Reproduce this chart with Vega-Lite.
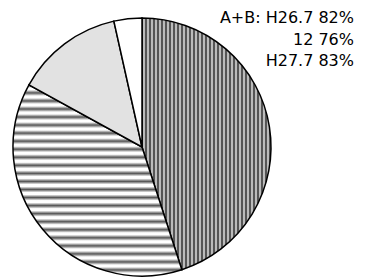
{
  "$schema": "https://vega.github.io/schema/vega-lite/v6.json",
  "width": 258,
  "height": 258,
  "autosize": {"type": "none"},
  "padding": {"left": 13, "top": 18, "right": 99, "bottom": 4},
  "background": "white",
  "config": {"view": {"stroke": null}},
  "title": {
    "text": ["A+B: H26.7 82%", "12 76%", "H27.7 83%"],
    "anchor": "end",
    "frame": "group",
    "align": "right",
    "font": "DejaVu Sans",
    "fontSize": 16,
    "fontWeight": "normal",
    "lineHeight": 21.5,
    "color": "black",
    "baseline": "top",
    "dx": 83,
    "dy": 58
  },
  "data": {
    "values": [
      {"k": "A", "v": 45, "o": 1},
      {"k": "B", "v": 38, "o": 2},
      {"k": "C", "v": 13.5, "o": 3},
      {"k": "D", "v": 3.5, "o": 4}
    ]
  },
  "mark": {"type": "arc", "stroke": "black", "strokeWidth": 1.5},
  "encoding": {
    "theta": {"field": "v", "type": "quantitative", "stack": true},
    "order": {"field": "o", "type": "quantitative"},
    "fill": {
      "condition": [
        {
          "test": "datum.k == 'A'",
          "value": {
            "gradient": "linear", "x1": 0, "y1": 0, "x2": 1, "y2": 0,
            "stops": [
              {"offset": 0, "color": "#222"}, {"offset": 0.0155, "color": "#eee"},
              {"offset": 0.0310, "color": "#222"}, {"offset": 0.0465, "color": "#eee"},
              {"offset": 0.0620, "color": "#222"}, {"offset": 0.0775, "color": "#eee"},
              {"offset": 0.0930, "color": "#222"}, {"offset": 0.1085, "color": "#eee"},
              {"offset": 0.1240, "color": "#222"}, {"offset": 0.1395, "color": "#eee"},
              {"offset": 0.1550, "color": "#222"}, {"offset": 0.1705, "color": "#eee"},
              {"offset": 0.1860, "color": "#222"}, {"offset": 0.2016, "color": "#eee"},
              {"offset": 0.2171, "color": "#222"}, {"offset": 0.2326, "color": "#eee"},
              {"offset": 0.2481, "color": "#222"}, {"offset": 0.2636, "color": "#eee"},
              {"offset": 0.2791, "color": "#222"}, {"offset": 0.2946, "color": "#eee"},
              {"offset": 0.3101, "color": "#222"}, {"offset": 0.3256, "color": "#eee"},
              {"offset": 0.3411, "color": "#222"}, {"offset": 0.3566, "color": "#eee"},
              {"offset": 0.3721, "color": "#222"}, {"offset": 0.3876, "color": "#eee"},
              {"offset": 0.4031, "color": "#222"}, {"offset": 0.4186, "color": "#eee"},
              {"offset": 0.4341, "color": "#222"}, {"offset": 0.4496, "color": "#eee"},
              {"offset": 0.4651, "color": "#222"}, {"offset": 0.4806, "color": "#eee"},
              {"offset": 0.4961, "color": "#222"}, {"offset": 0.5116, "color": "#eee"},
              {"offset": 0.5271, "color": "#222"}, {"offset": 0.5426, "color": "#eee"},
              {"offset": 0.5581, "color": "#222"}, {"offset": 0.5736, "color": "#eee"},
              {"offset": 0.5891, "color": "#222"}, {"offset": 0.6047, "color": "#eee"},
              {"offset": 0.6202, "color": "#222"}, {"offset": 0.6357, "color": "#eee"},
              {"offset": 0.6512, "color": "#222"}, {"offset": 0.6667, "color": "#eee"},
              {"offset": 0.6822, "color": "#222"}, {"offset": 0.6977, "color": "#eee"},
              {"offset": 0.7132, "color": "#222"}, {"offset": 0.7287, "color": "#eee"},
              {"offset": 0.7442, "color": "#222"}, {"offset": 0.7597, "color": "#eee"},
              {"offset": 0.7752, "color": "#222"}, {"offset": 0.7907, "color": "#eee"},
              {"offset": 0.8062, "color": "#222"}, {"offset": 0.8217, "color": "#eee"},
              {"offset": 0.8372, "color": "#222"}, {"offset": 0.8527, "color": "#eee"},
              {"offset": 0.8682, "color": "#222"}, {"offset": 0.8837, "color": "#eee"},
              {"offset": 0.8992, "color": "#222"}, {"offset": 0.9147, "color": "#eee"},
              {"offset": 0.9302, "color": "#222"}, {"offset": 0.9457, "color": "#eee"},
              {"offset": 0.9612, "color": "#222"}, {"offset": 0.9767, "color": "#eee"},
              {"offset": 0.9922, "color": "#222"}, {"offset": 1, "color": "#888"}
            ]
          }
        },
        {
          "test": "datum.k == 'B'",
          "value": {
            "gradient": "linear", "x1": 0, "y1": 0, "x2": 0, "y2": 1,
            "stops": [
              {"offset": 0, "color": "#555"}, {"offset": 0.0158, "color": "#fff"}, {"offset": 0.0263, "color": "#fff"},
              {"offset": 0.0421, "color": "#555"}, {"offset": 0.0579, "color": "#fff"}, {"offset": 0.0684, "color": "#fff"},
              {"offset": 0.0842, "color": "#555"}, {"offset": 0.1000, "color": "#fff"}, {"offset": 0.1105, "color": "#fff"},
              {"offset": 0.1263, "color": "#555"}, {"offset": 0.1421, "color": "#fff"}, {"offset": 0.1526, "color": "#fff"},
              {"offset": 0.1684, "color": "#555"}, {"offset": 0.1842, "color": "#fff"}, {"offset": 0.1947, "color": "#fff"},
              {"offset": 0.2105, "color": "#555"}, {"offset": 0.2263, "color": "#fff"}, {"offset": 0.2368, "color": "#fff"},
              {"offset": 0.2526, "color": "#555"}, {"offset": 0.2684, "color": "#fff"}, {"offset": 0.2789, "color": "#fff"},
              {"offset": 0.2947, "color": "#555"}, {"offset": 0.3105, "color": "#fff"}, {"offset": 0.3211, "color": "#fff"},
              {"offset": 0.3368, "color": "#555"}, {"offset": 0.3526, "color": "#fff"}, {"offset": 0.3632, "color": "#fff"},
              {"offset": 0.3789, "color": "#555"}, {"offset": 0.3947, "color": "#fff"}, {"offset": 0.4053, "color": "#fff"},
              {"offset": 0.4211, "color": "#555"}, {"offset": 0.4368, "color": "#fff"}, {"offset": 0.4474, "color": "#fff"},
              {"offset": 0.4632, "color": "#555"}, {"offset": 0.4789, "color": "#fff"}, {"offset": 0.4895, "color": "#fff"},
              {"offset": 0.5053, "color": "#555"}, {"offset": 0.5211, "color": "#fff"}, {"offset": 0.5316, "color": "#fff"},
              {"offset": 0.5474, "color": "#555"}, {"offset": 0.5632, "color": "#fff"}, {"offset": 0.5737, "color": "#fff"},
              {"offset": 0.5895, "color": "#555"}, {"offset": 0.6053, "color": "#fff"}, {"offset": 0.6158, "color": "#fff"},
              {"offset": 0.6316, "color": "#555"}, {"offset": 0.6474, "color": "#fff"}, {"offset": 0.6579, "color": "#fff"},
              {"offset": 0.6737, "color": "#555"}, {"offset": 0.6895, "color": "#fff"}, {"offset": 0.7000, "color": "#fff"},
              {"offset": 0.7158, "color": "#555"}, {"offset": 0.7316, "color": "#fff"}, {"offset": 0.7421, "color": "#fff"},
              {"offset": 0.7579, "color": "#555"}, {"offset": 0.7737, "color": "#fff"}, {"offset": 0.7842, "color": "#fff"},
              {"offset": 0.8000, "color": "#555"}, {"offset": 0.8158, "color": "#fff"}, {"offset": 0.8263, "color": "#fff"},
              {"offset": 0.8421, "color": "#555"}, {"offset": 0.8579, "color": "#fff"}, {"offset": 0.8684, "color": "#fff"},
              {"offset": 0.8842, "color": "#555"}, {"offset": 0.9000, "color": "#fff"}, {"offset": 0.9105, "color": "#fff"},
              {"offset": 0.9263, "color": "#555"}, {"offset": 0.9421, "color": "#fff"}, {"offset": 0.9526, "color": "#fff"},
              {"offset": 0.9684, "color": "#555"}, {"offset": 0.9842, "color": "#fff"}, {"offset": 1, "color": "#fff"}
            ]
          }
        },
        {"test": "datum.k == 'C'", "value": "#e2e2e2"}
      ],
      "value": "white"
    }
  }
}
